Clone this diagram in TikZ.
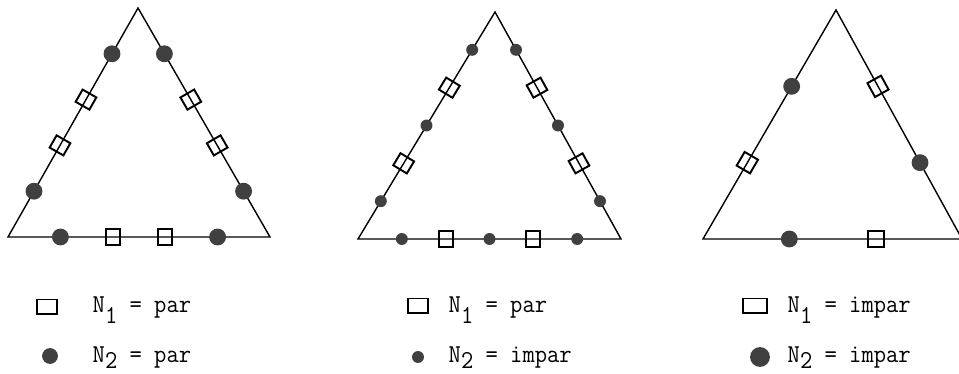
\documentclass[tikz,border=0pt]{standalone}
\usetikzlibrary{positioning,calc}
\newcommand{\sub}[2]{\raisebox{-#1}{#2}}

\begin{document}
\begin{tikzpicture}[x=0.02cm,y=-0.02cm,line width=0.8pt,
  sq/.style={draw,line width=1.1pt,inner sep=0pt,minimum width=8pt,minimum height=9pt},
  bsq/.style={sq,minimum width=9pt,minimum height=8.8pt},
  dot/.style={circle,fill=black!75,inner sep=0pt,minimum size=9.6pt},
  sdot/.style={dot,minimum size=6.8pt},
  lsq/.style={draw,line width=1.1pt,inner sep=0pt,minimum width=11.3pt,minimum height=8.5pt},
  lbl/.style={anchor=base west,inner sep=0pt,yscale=1.08,font=\fontsize{13.6}{15}\selectfont\ttfamily}]
\useasboundingbox (0,0) rectangle (959,374);
% triangle 1: N1 par, N2 par
\coordinate (a1) at (138,8); \coordinate (b1) at (8,237); \coordinate (c1) at (270,237);
\draw (a1) -- (b1) -- (c1) -- cycle;
\foreach \u/\v/\n in {b1/c1/x,c1/a1/y,a1/b1/z}
  \path (\u) -- (\v) node[dot,pos=.2] (t1\n1) {} node[sq,sloped,pos=.4] (t1\n2) {}
                     node[sq,sloped,pos=.6] (t1\n3) {} node[dot,pos=.8] (t1\n4) {};
% triangle 2: N1 par, N2 impar
\coordinate (a2) at (495,12); \coordinate (b2) at (358,239); \coordinate (c2) at (621,239);
\draw (a2) -- (b2) -- (c2) -- cycle;
\foreach \u/\v/\n in {b2/c2/x,c2/a2/y,a2/b2/z}
  \path (\u) -- (\v) node[sdot,pos=1/6] (t2\n1) {} node[sq,sloped,pos=2/6] (t2\n2) {}
                     node[sdot,pos=3/6] (t2\n3) {} node[sq,sloped,pos=4/6] (t2\n4) {}
                     node[sdot,pos=5/6] (t2\n5) {};
% triangle 3: N1 impar, N2 impar
\coordinate (a3) at (836,10); \coordinate (b3) at (703,239); \coordinate (c3) at (962,239);
\draw (a3) -- (b3) -- (c3) -- cycle;
\foreach \u/\v/\n in {b3/c3/x,c3/a3/y,a3/b3/z}
  \path (\u) -- (\v) node[dot,pos=1/3] (t3\n1) {} node[bsq,sloped,pos=2/3] (t3\n2) {};
% legends
\node[lsq] (q1) at (47,307) {};
\node[lbl] (n11) at (92,313) {N\sub{5.6pt}{1} = par};
\node[dot,minimum size=9pt] (d1) at (50,356) {};
\node[lbl] (n12) at (92,362) {N\sub{3.6pt}{2} = par};
\node[lsq] (q2) at (418,306) {};
\node[lbl] (n21) at (448,313) {N\sub{5.6pt}{1} = par};
\node[sdot] (d2) at (418,357) {};
\node[lbl] (n22) at (448,362) {N\sub{3.6pt}{2} = impar};
\node[lsq,minimum width=13.6pt] (q3) at (755,306) {};
\node[lbl] (n31) at (787,313) {N\sub{5.6pt}{1} = impar};
\node[dot,minimum size=11.3pt] (d3) at (760,357) {};
\node[lbl] (n32) at (787,362) {N\sub{3.6pt}{2} = impar};
\end{tikzpicture}
\end{document}
